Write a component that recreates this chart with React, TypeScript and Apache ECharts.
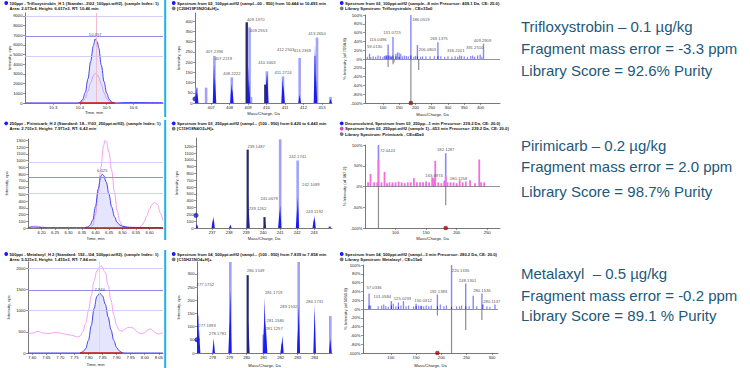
import React, { useEffect, useRef } from "react";
import * as echarts from "echarts";

type Pt = [number, number];
type Lbl = [number, number, string];

// ===================== DATA =====================
// ---- Row 1: Trifloxystrobin ----
const trifloXicBlue: Pt[] = [[10.195,0],[10.30,0],[10.39,0],[10.40,60],[10.41,350],[10.42,1100],[10.43,2500],[10.44,4300],[10.45,5900],[10.457,6617],[10.465,6300],[10.47,5700],[10.48,3900],[10.49,2200],[10.50,1000],[10.51,350],[10.52,80],[10.53,10],[10.54,0],[10.56,40],[10.60,50],[10.65,40],[10.71,30]];
const trifloXicPink: Pt[] = [[10.195,0],[10.40,0],[10.41,150],[10.42,500],[10.43,1200],[10.44,2100],[10.45,2800],[10.457,3050],[10.465,2900],[10.47,2650],[10.48,1900],[10.49,1050],[10.50,450],[10.51,150],[10.52,30],[10.53,0],[10.71,0]];
const trifloXicBaseline: Pt[] = [[10.40,0],[10.53,0]];
const trifloXicLevels = [8950, 6850, 4780];
const trifloXicRT = 10.457;
const trifloXicPeakLabel: Lbl[] = [[10.457, 6617, "10.457"]];
const trifloXicXTicks = [10.3, 10.4, 10.5, 10.6];
const trifloXicYTicks = [0,1000,2000,3000,4000,5000,6000,7000,8000,9000];

const trifloMs1Light: Pt[] = [[406.22,75],[406.73,75],[407.18,230],[408.12,125],[408.93,390],[409.08,370],[409.16,30],[410.02,155],[410.89,130],[411.79,220],[412.64,230],[412.73,320],[413.46,30]];
const trifloMs1Profile: Pt[] = [[406.2,75],[406.25,50],[407.16,190],[407.21,120],[408.1,95],[408.15,70],[409.0,180],[409.05,110],[410.0,140],[410.04,150],[410.87,120],[410.92,90],[411.79,40],[412.62,280],[412.67,140],[413.46,20]];
const trifloMs1Navy: Pt[] = [[408.93,395],[409.93,90]];
const trifloMs1Marker: Pt[] = [[406.13,20]];
const trifloMs1Labels: Lbl[] = [[407.18,230,"407.2396"],[407.18,230,"407.2219"],[408.12,125,"408.2222"],[408.93,390,"409.1370"],[409.08,370,"409.2553"],[410.02,155,"410.3463"],[410.89,130,"411.2724"],[411.79,220,"412.2503"],[412.64,230,"413.2369"],[412.73,320,"413.2650"]];
const trifloMs1XTicks = [407,408,409,410,411,412,413];
const trifloMs1YTicks = [0,50,100,150,200,250,300,350,400];

const trifloMs2Main: Pt[] = [[59.01,12],[116.05,33],[131.07,50],[186.05,100],[206.08,32],[269.14,38],[336.22,8],[391.25,8],[409.29,35]];
const trifloMs2Minor: Pt[] = [[52,5],[63,4],[70,6],[78,5],[85,8],[92,6],[100,5],[105,7],[110,9],[121,8],[125,6],[140,12],[145,15],[150,14],[155,12],[160,6],[166,8],[172,7],[178,6],[195,5],[200,7],[216,5],[222,6],[232,6],[245,6],[258,6],[278,6],[290,5],[300,6],[312,5],[322,6],[330,5],[342,7],[350,6],[360,5],[370,7],[376,8],[382,5],[399,10],[404,5]];
const trifloMs2Dark: Pt[] = [[110,6],[116,8],[125,5],[131,8],[140,6],[150,5],[186,8],[206,6],[269,6]];
const trifloMs2Library: Pt[] = [[116.05,-18],[131.07,-12],[134,-8],[186.05,-100],[210,-25]];
const trifloMs2Precursor: Pt[] = [[186.05,-100]];
const trifloMs2Labels: Lbl[] = [[59.01,12,"59.0130"],[116.05,33,"116.0496"],[131.07,50,"131.0725"],[186.05,100,"186.0519"],[206.08,32,"206.0803"],[269.14,38,"269.1375"],[336.22,8,"336.2201"],[391.25,8,"391.2510"],[409.29,35,"409.2909"]];
const trifloMs2XTicks = [100,150,200,250,300,350,400];
const trifloMs2YTicks = [-100,-80,-60,-40,-20,0,20,40,60,80,100];

// ---- Row 2: Pirimicarb ----
const pirXicBlue: Pt[] = [[6.15,5],[6.17,15],[6.19,10],[6.22,5],[6.30,5],[6.36,5],[6.37,15],[6.38,40],[6.39,120],[6.40,320],[6.41,580],[6.42,770],[6.425,797],[6.43,780],[6.44,680],[6.45,500],[6.46,310],[6.47,170],[6.48,85],[6.49,45],[6.50,25],[6.52,12],[6.55,8],[6.60,5],[6.65,5]];
const pirXicPink: Pt[] = [[6.15,5],[6.16,20],[6.18,30],[6.20,15],[6.22,5],[6.38,5],[6.39,40],[6.40,200],[6.41,520],[6.42,900],[6.43,1220],[6.435,1300],[6.44,1280],[6.45,1120],[6.46,850],[6.47,540],[6.48,260],[6.49,100],[6.50,30],[6.52,5],[6.56,5],[6.57,30],[6.58,90],[6.59,180],[6.60,280],[6.61,350],[6.62,380],[6.63,340],[6.64,220],[6.65,110]];
const pirXicBaseline: Pt[] = [[6.36,0],[6.65,0]];
const pirXicLevels = [970, 746, 522];
const pirXicPeakLabel: Lbl[] = [[6.425, 797, "6.425"]];
const pirXicXTicks = [6.20,6.25,6.30,6.35,6.40,6.45,6.50,6.55,6.60];
const pirXicYTicks = [0,100,200,300,400,500,600,700,800,900,1000,1100,1200,1300];

const pirMs1Light: Pt[] = [[236.1,30],[241.0,1300],[242.03,990],[243.92,25]];
const pirMs1Profile: Pt[] = [[236.1,60],[237.04,120],[237.08,168],[238.07,50],[239.1,580],[239.14,290],[240.1,120],[240.96,250],[241.0,330],[242.0,300],[242.04,450],[242.98,130],[243.02,180],[243.92,20]];
const pirMs1Navy: Pt[] = [[239.09,1150],[240.08,160]];
const pirMs1Marker: Pt[] = [[236.05,185]];
const pirMs1Labels: Lbl[] = [[239.09,1150,"239.1487"],[239.14,290,"239.1262"],[241.0,330,"241.0679"],[242.03,990,"242.1741"],[242.04,450,"242.1089"],[243.02,180,"243.1192"]];
const pirMs1XTicks = [237,238,239,240,241,242,243];
const pirMs1YTicks = [0,100,200,300,400,500,600,700,800,900,1000,1100,1200];

const pirMs2Blue: Pt[] = [[72.04,100],[95,6],[150,5],[163.1,18],[180.13,14],[182.13,80],[200,5]];
const pirMs2Pink: Pt[] = [[55,10],[59,30],[65,10],[70,10],[72.04,65],[77,10],[82,35],[86,8],[90,10],[95,10],[100,10],[105,12],[110,10],[115,8],[120,10],[125,10],[130,20],[135,10],[140,10],[145,10],[150,12],[155,10],[160,22],[163.1,20],[165,62],[170,10],[175,8],[180,12],[182.13,25],[185,10],[190,10],[195,10],[200,8],[205,15],[210,10],[215,12],[222,15],[230,8],[237,65],[240,10],[245,10]];
const pirMs2Library: Pt[] = [[72.04,-100],[182.13,-45]];
const pirMs2Precursor: Pt[] = [[182.13,-100]];
const pirMs2Labels: Lbl[] = [[72.04,100,"72.0424"],[182.13,80,"182.1287"],[163.1,18,"163.0974"],[180.13,14,"180.1258"]];
const pirMs2XTicks = [100,150,200,250];
const pirMs2YTicks = [-100,-50,0,50,100];

// ---- Row 3: Metalaxyl ----
const metXicBlue: Pt[] = [[7.585,0],[7.70,0],[7.77,0],[7.78,30],[7.79,100],[7.80,300],[7.81,650],[7.82,1050],[7.83,1340],[7.84,1415],[7.85,1350],[7.86,1150],[7.87,850],[7.88,550],[7.89,300],[7.90,130],[7.91,50],[7.92,10],[7.93,0],[8.065,0]];
const metXicPink: Pt[] = [[7.585,450],[7.60,470],[7.62,510],[7.64,470],[7.66,460],[7.68,490],[7.70,470],[7.72,440],[7.74,420],[7.76,380],[7.77,400],[7.78,500],[7.79,700],[7.80,1000],[7.81,1350],[7.82,1700],[7.83,1950],[7.845,2060],[7.86,1900],[7.87,1600],[7.88,1250],[7.89,900],[7.90,650],[7.91,530],[7.92,520],[7.93,560],[7.94,600],[7.95,610],[7.96,580],[7.97,520],[7.98,470],[7.99,460],[8.00,480],[8.01,540],[8.02,570],[8.03,520],[8.04,470],[8.05,450],[8.065,480]];
const metXicBaseline: Pt[] = [[7.77,0],[7.92,0]];
const metXicLevels = [2000, 1490, 1010];
const metXicRT = 7.84;
const metXicPeakLabel: Lbl[] = [[7.84, 1415, "7.840"]];
const metXicXTicks = [7.60,7.65,7.70,7.75,7.80,7.85,7.90,7.95,8.00,8.05];
const metXicYTicks = [0,500,1000,1500,2000];

const metMs1Light: Pt[] = [[277.1,140],[279.04,345],[281.0,70],[283.06,345],[284.92,140]];
const metMs1Profile: Pt[] = [[277.1,245],[277.14,150],[277.2,88],[278.06,55],[279.0,120],[279.04,240],[280.1,120],[281.04,150],[281.06,210],[281.1,120],[281.14,90],[282.06,40],[282.1,65],[283.04,120],[283.06,180],[284.0,180],[284.92,55]];
const metMs1Navy: Pt[] = [[280.06,295]];
const metMs1Marker: Pt[] = [[277.08,50]];
const metMs1Labels: Lbl[] = [[277.1,245,"277.1752"],[277.2,88,"277.1993"],[278.06,55,"278.1781"],[280.06,295,"280.1549"],[281.06,210,"281.1719"],[281.1,120,"281.1580"],[281.14,90,"281.1257"],[283.06,180,"283.1532"],[284.0,180,"284.1731"]];
const metMs1XTicks = [278,279,280,281,282,283,284];
const metMs1YTicks = [0,50,100,150,200,250,300];

const metMs2Main: Pt[] = [[57.03,35],[101.06,18],[125.02,18],[150.03,12],[192.14,33],[220.13,100],[248.13,58],[263,30],[280.15,35],[306,10]];
const metMs2Minor: Pt[] = [[60,8],[75,6],[82,8],[86,10],[90,6],[95,5],[105,12],[110,6],[115,15],[120,8],[130,6],[135,8],[145,6],[155,8],[160,8],[165,6],[170,8],[175,6],[180,8],[198,10],[205,6],[210,8],[230,6],[236,6],[240,8],[255,6],[270,6],[290,6],[296,5]];
const metMs2Dark: Pt[] = [[57.03,8],[101.06,8],[115,5],[150,6],[160,6],[192.14,6],[220.13,5],[248.13,6],[282,10]];
const metMs2Library: Pt[] = [[192.14,-15],[220.13,-100],[248.13,-48],[280.15,-25]];
const metMs2Precursor: Pt[] = [[192.14,-100]];
const metMs2Labels: Lbl[] = [[57.03,35,"57.0336"],[101.06,18,"101.0584"],[125.02,18,"125.0233"],[150.03,12,"150.0312"],[192.14,33,"192.1383"],[220.13,100,"220.1336"],[248.13,58,"248.1301"],[280.15,35,"280.1536"],[282,10,"280.1137"]];
const metMs2XTicks = [100,150,200,250,300];
const metMs2YTicks = [-100,-80,-60,-40,-20,0,20,40,60,80,100];

// ---- Texts ----
const headers: string[][] = [
  ["100ppt - Trifloxystrobin_H 1 (Standar...3\\02_100ppt.wiff2), (sample Index: 1)", "Area: 2.073e4, Height: 6.617e3, RT: 10.46 min"],
  ["Spectrum from 02_100ppt.wiff2 (sampl...00 - 950) from 10.444 to 10.493 min", "[C20H19F3N2O4+H]+"],
  ["Spectrum from 02_100ppt.wiff2 (sample...8 min Precursor: 409.1 Da, CE: 25.0)", "Library Spectrum: Trifloxystrobin , CE=35±0"],
  ["250ppt - Pirimicarb_H 2 (Standard: 18...Y\\03_250ppt.wiff2), (sample Index: 1)", "Area: 2.701e3, Height: 7.971e2, RT: 6.42 min"],
  ["Spectrum from 03_250ppt.wiff2 (sampl... (100 - 950) from 6.420 to 6.443 min", "[C11H18N4O2+H]+"],
  ["Deconvoluted, Spectrum from 03_250pp...1 min Precursor: 239.2 Da, CE: 20.0)", "Spectrum from 03_250ppt.wiff2 (sample 1)...653 min Precursor: 239.2 Da, CE: 20.0)", "Library Spectrum: Pirimicarb , CE=45±0"],
  ["500ppt - Metalaxyl_H 2 (Standard: 192...\\04_500ppt.wiff2), (sample Index: 1)", "Area: 5.521e3, Height: 1.415e3, RT: 7.84 min"],
  ["Spectrum from 04_500ppt.wiff2 (sampl... (100 - 950) from 7.839 to 7.858 min", "[C15H21NO4+H]+"],
  ["Spectrum from 04_500ppt.wiff2 (sampl...3 min Precursor: 280.2 Da, CE: 20.0)", "Library Spectrum: Metalaxyl , CE=15±0"],
];
const summaryTexts: string[][] = [
  ["Trifloxystrobin – 0.1 µg/kg", "Fragment mass error = -3.3 ppm", "Library Score = 92.6% Purity"],
  ["Pirimicarb – 0.2 µg/kg", "Fragment mass error = 2.0 ppm", "Library Score = 98.7% Purity"],
  ["Metalaxyl  – 0.5 µg/kg", "Fragment mass error = -0.2 ppm", "Library Score = 89.1 % Purity"],
];

// ===================== STYLE / LAYOUT =====================
const FONT = "'Liberation Sans', Arial, Helvetica, sans-serif";
const AX = "#555";
const TXT = "#222";
const C = {
  blue: "#4646ec", pink: "#f08ae8", red: "#c41010", fill: "rgba(130,130,250,0.3)",
  levelLight: "#c3c3f7", levelDark: "#8e8ee9", light: "#a2a2fb", spike: "#1c1cf2", navy: "#29296a",
  ms2: "#8787fb", ms2dark: "#2a2ad6", lib: "#8e8e8e", pinkStick: "#f56ede", cyan: "#1fb1e3", textBlue: "#22587a",
};

interface AxisSpec { min: number; max: number; ticks: number[]; fmt: (v: number) => string; name: string; gap: number }
interface PanelSpec { box: { left: number; top: number; width: number; height: number }; x: AxisSpec; y: AxisSpec }

const int = (v: number) => String(v);
const pct = (v: number) => v + "%";
const f1 = (v: number) => v.toFixed(1);
const f2 = (v: number) => v.toFixed(2);

const panels: PanelSpec[] = [
  { box: { left: 25, top: 13, width: 138, height: 90 }, x: { min: 10.195, max: 10.71, ticks: trifloXicXTicks, fmt: f1, name: "Time, min", gap: 7.5 }, y: { min: 0, max: 9300, ticks: trifloXicYTicks, fmt: int, name: "Intensity, cps", gap: 14 } },
  { box: { left: 195, top: 13, width: 137, height: 90 }, x: { min: 406.13, max: 413.54, ticks: trifloMs1XTicks, fmt: int, name: "Mass/Charge, Da", gap: 8 }, y: { min: 0, max: 440, ticks: trifloMs1YTicks, fmt: int, name: "Intensity, cps", gap: 15 } },
  { box: { left: 365, top: 15, width: 135, height: 88 }, x: { min: 45, max: 460, ticks: trifloMs2XTicks, fmt: int, name: "Mass/Charge, Da", gap: 9.5 }, y: { min: -100, max: 100, ticks: trifloMs2YTicks, fmt: pct, name: "% Intensity (of 7058.8)", gap: 18.5 } },
  { box: { left: 28, top: 139, width: 135, height: 89 }, x: { min: 6.15, max: 6.65, ticks: pirXicXTicks, fmt: f2, name: "Time, min", gap: 8 }, y: { min: 0, max: 1320, ticks: pirXicYTicks, fmt: int, name: "Intensity, cps", gap: 19.5 } },
  { box: { left: 196, top: 138, width: 136, height: 90 }, x: { min: 236.05, max: 244.05, ticks: pirMs1XTicks, fmt: int, name: "Mass/Charge, Da", gap: 8 }, y: { min: 0, max: 1320, ticks: pirMs1YTicks, fmt: int, name: "Intensity, cps", gap: 18 } },
  { box: { left: 365, top: 145, width: 135, height: 83 }, x: { min: 50, max: 271, ticks: pirMs2XTicks, fmt: int, name: "Mass/Charge, Da", gap: 8 }, y: { min: -100, max: 100, ticks: pirMs2YTicks, fmt: pct, name: "% Intensity (of 387.2)", gap: 18.5 } },
  { box: { left: 28, top: 262, width: 135, height: 91 }, x: { min: 7.585, max: 8.065, ticks: metXicXTicks, fmt: f2, name: "Time, min", gap: 9.5 }, y: { min: 0, max: 2150, ticks: metXicYTicks, fmt: int, name: "Intensity, cps", gap: 18 } },
  { box: { left: 197, top: 262, width: 135, height: 91 }, x: { min: 277.08, max: 285.02, ticks: metMs1XTicks, fmt: int, name: "Mass/Charge, Da", gap: 10 }, y: { min: 0, max: 345, ticks: metMs1YTicks, fmt: int, name: "Intensity, cps", gap: 17 } },
  { box: { left: 363, top: 265, width: 135, height: 88 }, x: { min: 45, max: 312, ticks: metMs2XTicks, fmt: int, name: "Mass/Charge, Da", gap: 10.5 }, y: { min: -100, max: 100, ticks: metMs2YTicks, fmt: pct, name: "% Intensity (of 5069.8)", gap: 16 } },
];

// label offsets (px) relative to label anchor (styling only)
const OFF = {
  trifloXic: [[0, -4]],
  trifloMs1: [[0, -4.3], [9, 2.3], [0, -3.5], [9, -4], [9, 3.4], [0, -9], [0, -4], [-14, -9], [-13, -5], [0, -4.5]],
  trifloMs2: [[5, -7.5], [-10, -5], [-1, -4.5], [10, 4.5], [10, 4.5], [1, -3.5], [-4, -5], [-3, -7.5], [-1, -3.5]],
  pirXic: [[0, -4]],
  pirMs1: [[8.5, -3], [9, 0], [-11, -7], [0, -4], [13, -13], [0, -4]],
  pirMs2: [[9, 5.5], [0, -3.5], [0, -3.5], [14, -2]],
  metXic: [[0, -4]],
  metMs1: [[8, -4], [8, -4], [4, -5], [8, -4.5], [9, -5], [10, -1], [8, -1], [-10, 1], [0, -4]],
  metMs2: [[5, -6], [-9, -4.5], [-1, -3], [7, -3.5], [1, -3], [9, 5.5], [2, -3], [0, -3], [9, -3]],
};

// ===================== BUILDERS =====================
function xAxisOf(p: PanelSpec, i: number) {
  return {
    type: "value", gridIndex: i, min: p.x.min, max: p.x.max, position: "bottom",
    axisLine: { show: true, onZero: false, lineStyle: { color: AX, width: 0.8 } },
    axisTick: { show: true, length: 2, lineStyle: { color: AX, width: 0.6 }, customValues: p.x.ticks },
    axisLabel: { show: true, fontSize: 4.2, color: TXT, fontFamily: FONT, margin: 2.5, customValues: p.x.ticks, formatter: p.x.fmt },
    splitLine: { show: false },
    name: p.x.name, nameLocation: "middle", nameGap: p.x.gap, nameMoveOverlap: false,
    nameTextStyle: { fontSize: 4.2, color: TXT, fontFamily: FONT },
  };
}
function yAxisOf(p: PanelSpec, i: number) {
  return {
    type: "value", gridIndex: i, min: p.y.min, max: p.y.max, position: "left",
    axisLine: { show: true, onZero: false, lineStyle: { color: AX, width: 0.8 } },
    axisTick: { show: true, length: 2, lineStyle: { color: AX, width: 0.6 }, customValues: p.y.ticks },
    axisLabel: { show: true, fontSize: 4.2, color: TXT, fontFamily: FONT, margin: 2.5, customValues: p.y.ticks, formatter: p.y.fmt },
    splitLine: { show: false },
    name: p.y.name, nameLocation: "middle", nameGap: p.y.gap, nameRotate: 90, nameMoveOverlap: false,
    nameTextStyle: { fontSize: 4.2, color: TXT, fontFamily: FONT },
  };
}

function curve(g: number, data: Pt[], color: string, width: number, z: number, extra: any = {}) {
  return {
    type: "line", xAxisIndex: g, yAxisIndex: g, data, showSymbol: false, symbol: "none",
    smooth: 0.35, smoothMonotone: "x", lineStyle: { color, width }, z, silent: true, ...extra,
  };
}
function levelLines(levels: number[], rt: number | null, rtColor: string) {
  const data: any[] = levels.map((v, i) => ({
    yAxis: v, lineStyle: { color: i === 1 ? C.levelDark : C.levelLight, width: i === 1 ? 1.1 : 0.8, type: "solid" },
  }));
  if (rt !== null) data.push({ xAxis: rt, lineStyle: { color: rtColor, width: 0.9, type: "solid" } });
  return { silent: true, symbol: ["none", "none"], label: { show: false }, animation: false, data };
}
function sticks(g: number, data: Pt[], color: string, width: number, z: number) {
  return {
    type: "custom", xAxisIndex: g, yAxisIndex: g, data, z, clip: true, silent: true, encode: { x: 0, y: 1 },
    renderItem: (_params: any, api: any) => {
      const a = api.coord([api.value(0), 0]);
      const b = api.coord([api.value(0), api.value(1)]);
      return { type: "rect", shape: { x: a[0] - width / 2, y: Math.min(a[1], b[1]), width, height: Math.abs(a[1] - b[1]) }, style: { fill: color } };
    },
  };
}
function spikes(g: number, data: Pt[], color: string, half: number, z: number) {
  return {
    type: "custom", xAxisIndex: g, yAxisIndex: g, data, z, clip: true, silent: true, encode: { x: 0, y: 1 },
    renderItem: (_params: any, api: any) => {
      const a = api.coord([api.value(0), 0]);
      const b = api.coord([api.value(0), api.value(1)]);
      return { type: "polygon", shape: { points: [[a[0] - half, a[1]], [b[0], b[1]], [a[0] + half, a[1]]] }, style: { fill: color } };
    },
  };
}
function labels(g: number, items: Lbl[], offs: number[][]) {
  return {
    type: "scatter", xAxisIndex: g, yAxisIndex: g, symbolSize: 1, itemStyle: { color: "transparent" }, silent: true, z: 20,
    data: items.map((l, i) => ({
      value: [l[0], l[1]],
      label: { show: true, position: "inside", formatter: l[2], offset: offs[i] || [0, -4], fontSize: 4.2, color: TXT, fontFamily: FONT },
    })),
  };
}
function markers(g: number, data: Pt[], color: string, size: number, symbol = "circle") {
  return {
    type: "scatter", xAxisIndex: g, yAxisIndex: g, data, symbol, symbolSize: size, silent: true, z: 21,
    itemStyle: { color, borderColor: "#222", borderWidth: 0.5 },
  };
}
function zeroLine() {
  return { silent: true, symbol: ["none", "none"], label: { show: false }, animation: false, data: [{ yAxis: 0, lineStyle: { color: "#666", width: 0.7, type: "solid" } }] };
}

function chromSeries(g: number, blue: Pt[], pink: Pt[], base: Pt[], levels: number[], rt: number | null, rtColor: string, lbl: Lbl[], off: number[][]) {
  return [
    curve(g, pink, C.pink, 0.8, 3),
    curve(g, blue, C.blue, 1, 4, { areaStyle: { color: C.fill }, markLine: levelLines(levels, rt, rtColor) }),
    curve(g, base, C.red, 1.6, 5, { smooth: false }),
    labels(g, lbl, off),
  ];
}
function ms1Series(g: number, light: Pt[], prof: Pt[], navy: Pt[], mark: Pt[], lbl: Lbl[], off: number[][]) {
  return [
    sticks(g, light, C.light, 2.6, 2),
    spikes(g, prof, C.spike, 1.3, 3),
    sticks(g, navy, C.navy, 2.2, 4),
    markers(g, mark, "#1a1aff", 4.5),
    labels(g, lbl, off),
  ];
}

function buildGraphic() {
  const els: any[] = [];
  const colX = [9.5, 177, 345];
  const rowY = [3, 123.3, 254];
  const iconColors: (string | null)[][] = [
    ["#1a1aff", null], ["#1a1aff", "#777"], ["#1a1aff", "#777"],
    ["#1a1aff", null], ["#1a1aff", "#777"], ["#1a1aff", "#e040d0", "#777"],
    ["#1a1aff", null], ["#1a1aff", "#777"], ["#1a1aff", "#777"],
  ];
  headers.forEach((lines, i) => {
    const x = colX[i % 3];
    const y0 = rowY[Math.floor(i / 3)];
    lines.forEach((t, j) => {
      const y = y0 + j * 5.4;
      const ic = iconColors[i][j];
      if (ic) els.push({ type: "circle", shape: { cx: x - 3.3, cy: y, r: 1.9 }, style: { fill: ic }, silent: true });
      els.push({ type: "text", x, y, silent: true, style: { text: t, fontSize: 4.2, fontWeight: "bold", fill: "#111", fontFamily: FONT, align: "left", verticalAlign: "middle" } });
    });
  });
  // cyan separators
  [[0, 117], [120, 240], [250, 368]].forEach(([a, b]) => {
    els.push({ type: "rect", shape: { x: 164.2, y: a, width: 2, height: b - a }, style: { fill: C.cyan }, silent: true });
  });
  // summary texts
  const sumY = [[26.7, 48.3, 70], [145, 166.7, 191.7], [273, 295, 315]];
  summaryTexts.forEach((lines, r) => {
    lines.forEach((t, j) => {
      els.push({ type: "text", x: 521, y: sumY[r][j], silent: true, style: { text: t, fontSize: 15, fill: C.textBlue, fontFamily: FONT, align: "left", verticalAlign: "middle" } });
    });
  });
  return els;
}

function buildOption() {
  const series: any[] = [
    ...chromSeries(0, trifloXicBlue, trifloXicPink, trifloXicBaseline, trifloXicLevels, trifloXicRT, "#f2b5c8", trifloXicPeakLabel, OFF.trifloXic),
    ...ms1Series(1, trifloMs1Light, trifloMs1Profile, trifloMs1Navy, trifloMs1Marker, trifloMs1Labels, OFF.trifloMs1),
    sticks(2, trifloMs2Minor, C.ms2, 1.2, 2),
    sticks(2, trifloMs2Main, C.ms2, 1.4, 3),
    sticks(2, trifloMs2Dark, C.ms2dark, 1, 4),
    sticks(2, trifloMs2Library, C.lib, 1.2, 4),
    markers(2, trifloMs2Precursor, "#c00000", 3.5, "roundRect"),
    { ...labels(2, trifloMs2Labels, OFF.trifloMs2), markLine: zeroLine() },
    ...chromSeries(3, pirXicBlue, pirXicPink, pirXicBaseline, pirXicLevels, null, "", pirXicPeakLabel, OFF.pirXic),
    ...ms1Series(4, pirMs1Light, pirMs1Profile, pirMs1Navy, pirMs1Marker, pirMs1Labels, OFF.pirMs1),
    sticks(5, pirMs2Blue, C.ms2, 1.6, 2),
    sticks(5, pirMs2Pink, C.pinkStick, 1.8, 3),
    sticks(5, pirMs2Library, C.lib, 1.2, 4),
    markers(5, pirMs2Precursor, "#c00000", 3.5, "roundRect"),
    { ...labels(5, pirMs2Labels, OFF.pirMs2), markLine: zeroLine() },
    ...chromSeries(6, metXicBlue, metXicPink, metXicBaseline, metXicLevels, metXicRT, "#f1d6ae", metXicPeakLabel, OFF.metXic),
    ...ms1Series(7, metMs1Light, metMs1Profile, metMs1Navy, metMs1Marker, metMs1Labels, OFF.metMs1),
    sticks(8, metMs2Minor, C.ms2, 1.2, 2),
    sticks(8, metMs2Main, C.ms2, 1.4, 3),
    sticks(8, metMs2Dark, C.ms2dark, 1, 4),
    sticks(8, metMs2Library, C.lib, 1.2, 4),
    markers(8, metMs2Precursor, "#c00000", 3.5, "roundRect"),
    { ...labels(8, metMs2Labels, OFF.metMs2), markLine: zeroLine() },
  ];
  return {
    animation: false,
    backgroundColor: "#ffffff",
    textStyle: { fontFamily: FONT },
    grid: panels.map((p) => ({ ...p.box, containLabel: false, outerBoundsMode: "none", show: false })),
    xAxis: panels.map((p, i) => xAxisOf(p, i)),
    yAxis: panels.map((p, i) => yAxisOf(p, i)),
    series,
    graphic: buildGraphic(),
  };
}

export default function App() {
  const ref = useRef<HTMLDivElement>(null);
  useEffect(() => {
    if (!ref.current) return;
    const chart = echarts.init(ref.current, null, { renderer: "svg" });
    chart.setOption(buildOption() as any);
    return () => chart.dispose();
  }, []);
  return (
    <div
      ref={ref}
      style={{ position: "fixed", left: 0, top: 0, width: 750, height: 368, background: "#fff" }}
    />
  );
}
